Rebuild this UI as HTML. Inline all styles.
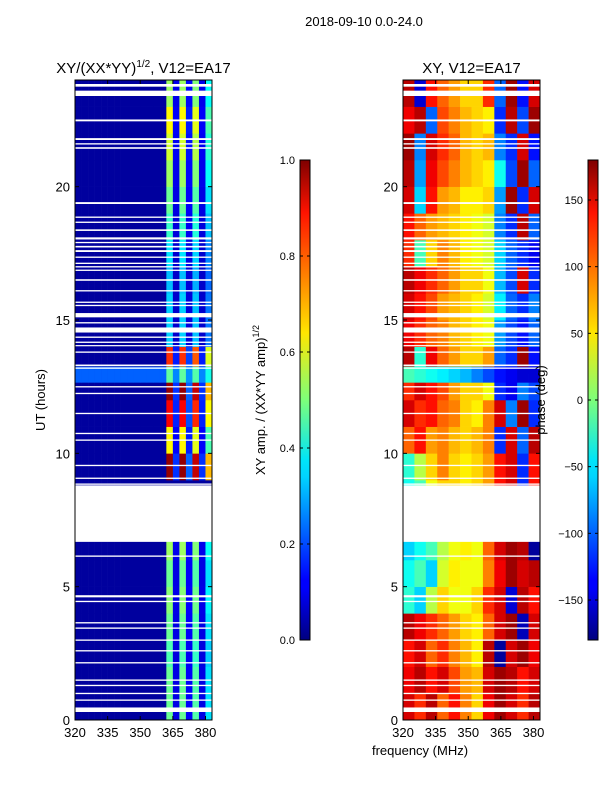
<!DOCTYPE html>
<html><head><meta charset="utf-8"><style>
body{margin:0;background:#fff;font-family:"Liberation Sans",sans-serif}
svg text{font-family:"Liberation Sans",sans-serif;fill:#000}
</style></head><body>
<svg id="c" width="600" height="800" xmlns="http://www.w3.org/2000/svg">
<defs>
<linearGradient id="jetv" x1="0" y1="1" x2="0" y2="0">
<stop offset="0" stop-color="#00007f"/><stop offset="0.11" stop-color="#0000ff"/><stop offset="0.125" stop-color="#0000ff"/><stop offset="0.34" stop-color="#00d4ff"/><stop offset="0.375" stop-color="#00e5f8"/><stop offset="0.5" stop-color="#7dff7a"/><stop offset="0.64" stop-color="#ffe600"/><stop offset="0.66" stop-color="#ffd400"/><stop offset="0.89" stop-color="#ff1300"/><stop offset="1" stop-color="#7f0000"/>
</linearGradient>
</defs>
<text x="364" y="26" font-size="13" text-anchor="middle">2018-09-10 0.0-24.0</text>
<g id="g"></g>
</svg>
<script>
// ---- data ----
const freqMin=320, freqMax=383, hourMin=0, hourMax=24;
const xTicks=[320,335,350,365,380];
const yTicks=[0,5,10,15,20];
const ampTicks=[0.0,0.2,0.4,0.6,0.8,1.0];
const phaseTicks=[-150,-100,-50,0,50,100,150];
// left-panel channel profile (3 MHz bins from 320)
const chanProfile=[0,0,0,0,0,0,0,0,0,0,0,0,0,0,1.0,0.15,1.0,0.2,0.95,0.15,0.7];
// left-panel intensity per hour 0..23
const hourAmp=[0.45,0.45,0.42,0.45,0.48,0.45,0.5,0,0,0.95,0.6,0.85,0.95,0.8,0.3,0.3,0.28,0.32,0.4,0.45,0.5,0.55,0.6,0.5];
const bgAmp=0.03;
// right-panel phase (deg), 24 hours x 12 bins (5.25 MHz)
const phase=[
[150,120,160,100,130,90,60,140,170,150,120,160],
[140,160,130,150,110,80,70,150,170,160,130,150],
[130,150,100,120,90,70,50,160,-170,150,170,140],
[160,140,120,100,80,60,50,100,150,170,-160,150],
[-30,-60,20,60,40,40,60,120,150,-150,160,130],
[-40,-20,-60,30,50,40,40,90,140,170,150,160],
[-60,-40,-20,20,40,50,40,100,150,170,160,-170],
[0,0,0,0,0,0,0,0,0,0,0,0],
[-40,-20,40,60,60,50,60,80,130,150,-120,130],
[-30,20,60,90,60,50,60,80,130,150,-120,130],
[100,130,80,90,70,60,70,90,-120,150,-100,160],
[150,120,130,100,90,60,50,90,150,-90,170,-120],
[120,150,130,110,80,60,60,40,-120,-140,-90,-110],
[160,-30,140,100,80,60,60,80,-100,-120,170,-130],
[140,120,100,90,70,60,50,40,-80,-110,-130,-100],
[150,130,110,80,70,60,50,30,-50,-100,-120,-90],
[160,140,120,100,80,60,60,40,-70,-110,150,-120],
[120,-20,60,90,70,50,40,30,-60,-100,-120,-140],
[130,100,80,70,60,50,40,30,-90,-120,160,-100],
[150,-60,130,80,70,50,50,60,-80,170,-120,150],
[160,-80,140,110,90,70,60,50,-40,-110,170,-100],
[170,-90,150,120,100,70,60,70,-90,-120,150,-130],
[140,160,-100,110,90,70,60,50,-120,160,-110,170],
[160,-150,130,100,80,60,60,120,-100,170,-130,150]];
// special band 12.65-13.25 h
const bandStart=12.65, bandEnd=13.25, bandAmp=0.22;
const bandPhase=[-20,-30,-40,-50,-60,-70,-90,-110,-130,-140,-150,-150];
// flagged (white) intervals [start,end] hours
const gaps=[[23.75,23.85],[23.4,23.6],[22.45,22.52],[21.75,21.82],[21.58,21.63],[21.42,21.48],[19.35,19.42],[18.83,18.88],[18.64,18.69],[18.34,18.4],[18.02,18.1],[17.88,17.93],[17.72,17.78],[17.55,17.62],[17.33,17.38],[17.1,17.15],[16.97,17.02],[16.84,16.89],[16.47,16.53],[16.07,16.12],[15.64,15.69],[15.52,15.57],[15.1,15.26],[14.87,14.92],[14.53,14.72],[14.33,14.38],[14.14,14.19],[14.02,14.06],[13.77,13.82],[13.27,13.33],[13.17,13.22],[12.47,12.52],[12.22,12.27],[11.47,11.52],[10.72,10.77],[10.47,10.52],[9.52,9.57],[9.04,9.09],[8.82,8.87],[6.68,8.8],[6.12,6.17],[4.6,4.68],[4.42,4.47],[3.62,3.67],[3.42,3.47],[2.97,3.02],[2.57,2.62],[2.12,2.17],[1.47,1.52],[1.27,1.32],[0.97,1.02],[0.72,0.77],[0.3,0.47]];
// ---- drawing ----
const NS="http://www.w3.org/2000/svg";
const g=document.getElementById('g');
function jet(v){v=Math.max(0,Math.min(1,v));
 const r=Math.max(0,Math.min(1,1.5-Math.abs(4*v-3))),gg=Math.max(0,Math.min(1,1.5-Math.abs(4*v-2))),b=Math.max(0,Math.min(1,1.5-Math.abs(4*v-1)));
 return `rgb(${Math.round(r*255)},${Math.round(gg*255)},${Math.round(b*255)})`;}
function el(t,a,p){const e=document.createElementNS(NS,t);for(const k in a)e.setAttribute(k,a[k]);(p||g).appendChild(e);return e;}
const plotTop=80,plotBot=720;
const yS=h=>plotBot-(h-hourMin)/(hourMax-hourMin)*(plotBot-plotTop);
function panel(x0,x1,name,cellFn,nb,title){
 const xS=f=>x0+(f-freqMin)/(freqMax-freqMin)*(x1-x0);
 const pg=el('g',{});
 
 
 const bw=(freqMax-freqMin)/nb;
 for(let h=0;h<24;h++)for(let j=0;j<nb;j++){
  const r=el('rect',{x:xS(freqMin+j*bw),y:yS(h+1),width:xS(freqMin+(j+1)*bw)-xS(freqMin+j*bw)+0.3,height:yS(h)-yS(h+1)+0.3,fill:jet(cellFn(h,j,false))},pg);
  
  
 }
 for(let j=0;j<nb;j++){
  const r=el('rect',{x:xS(freqMin+j*bw),y:yS(bandEnd),width:xS(freqMin+(j+1)*bw)-xS(freqMin+j*bw)+0.3,height:yS(bandStart)-yS(bandEnd),fill:jet(cellFn(0,j,true))},pg);
  
  
 }
 gaps.forEach(q=>{const r=el('rect',{x:x0,y:yS(q[1]),width:x1-x0,height:Math.max(1.2,yS(q[0])-yS(q[1])),fill:'#fff'},pg);
  
  });
 const fr=el('rect',{x:x0,y:plotTop,width:x1-x0,height:plotBot-plotTop,fill:'none',stroke:'#000','stroke-width':1});
 
 
 xTicks.forEach(t=>{const x=xS(t);el('line',{x1:x,x2:x,y1:plotBot,y2:plotBot-4,stroke:'#000'});el('line',{x1:x,x2:x,y1:plotTop,y2:plotTop+4,stroke:'#000'});
  const tx=el('text',{x:x,y:plotBot+17,'font-size':13,'text-anchor':'middle'});tx.textContent=t;
  
  });
 yTicks.forEach(t=>{const y=yS(t);el('line',{x1:x0,x2:x0+4,y1:y,y2:y,stroke:'#000'});el('line',{x1:x1,x2:x1-4,y1:y,y2:y,stroke:'#000'});
  const tx=el('text',{x:x0-5,y:y+5,'font-size':13,'text-anchor':'end'});tx.textContent=t;
  
  });
 const tt=el('text',{x:(x0+x1)/2,y:73,'font-size':15,'text-anchor':'middle'});tt.innerHTML=title;
 
 
}
panel(75,212,'amplitude-panel',(h,j,band)=>band?bandAmp+0.25*chanProfile[j]:bgAmp+chanProfile[j]*hourAmp[h],chanProfile.length,'XY/(XX*YY)<tspan font-size="10" dy="-6">1/2</tspan><tspan dy="6">, V12=EA17</tspan>');
panel(403,540,'phase-panel',(h,j,band)=>((band?bandPhase[j]:phase[h][j])+180)/360,12,'XY, V12=EA17');
function cbar(x,lo,hi,ticks,name,fmt){
 const r=el('rect',{x:x,y:160,width:10,height:480,fill:'url(#jetv)',stroke:'#000','stroke-width':1});
 
 
 ticks.forEach(t=>{const y=640-(t-lo)/(hi-lo)*480;el('line',{x1:x,x2:x+3,y1:y,y2:y,stroke:'#000'});el('line',{x1:x+10,x2:x+7,y1:y,y2:y,stroke:'#000'});
  const tx=el('text',{x:x-5,y:y+4,'font-size':11,'text-anchor':'end'});tx.textContent=fmt(t);
  
  });
}
cbar(300,0,1,ampTicks,'amplitude-colorbar',t=>t.toFixed(1));
cbar(588,-180,180,phaseTicks,'phase-colorbar',t=>t<0?'\u2212'+(-t):''+t);
let t;
t=el('text',{x:0,y:0,'font-size':13,'text-anchor':'middle',transform:'translate(45,400) rotate(-90)'});t.textContent='UT (hours)';


t=el('text',{x:0,y:0,'font-size':13,'text-anchor':'middle',transform:'translate(265,400) rotate(-90)'});t.innerHTML='XY amp. / (XX*YY amp)<tspan font-size="9" dy="-6">1/2</tspan>';


t=el('text',{x:0,y:0,'font-size':13,'text-anchor':'middle',transform:'translate(545,400) rotate(-90)'});t.textContent='phase (deg)';


t=el('text',{x:420,y:755,'font-size':13,'text-anchor':'middle'});t.textContent='frequency (MHz)';


</script>
</body></html>
